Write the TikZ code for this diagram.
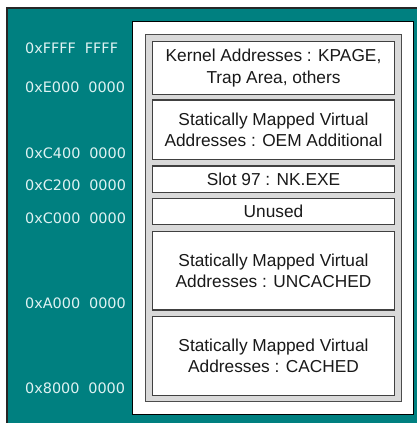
\documentclass[tikz,border=0pt]{standalone}
\usepackage{fontspec}
\setmainfont{Liberation Sans}
\newfontfamily\addrfont{DejaVu Sans}
\definecolor{tealbg}{RGB}{0,128,128}
\definecolor{addrtext}{RGB}{222,242,242}
\definecolor{panelgray}{RGB}{217,217,217}
\newcommand{\addrgap}{\hspace{0.62em}}
\begin{document}
\begin{tikzpicture}[x=1pt,y=1pt,
  addrlabel/.style={anchor=west, inner sep=0pt, text=addrtext, font=\addrfont\fontsize{14.4}{17}\selectfont},
  region/.style={draw=black!75, line width=1.1pt, fill=white, minimum width=242pt, inner sep=0pt,
    font=\fontsize{17.3}{21.5}\selectfont, align=center, text=black!90},
  framebox/.style={draw=black, fill=white, line width=1pt, inner sep=0pt},
  panelbox/.style={draw=black!70, fill=panelgray, line width=1pt, inner sep=0pt}
]
\useasboundingbox (0,0) rectangle (417,423);
\fill[tealbg] (7,0) rectangle (417,415);
\draw[line width=1.2pt, black!85] (7,0) -- (7,415) -- (417,415);
\node[framebox, minimum width=281pt, minimum height=393pt] (frame) at (272.5,204.5) {};
\node[panelbox, minimum width=256pt, minimum height=367pt] (panel) at (273,204.5) {};
\node[region, minimum height=52.6pt] (kernel) at (273.5,355) {Kernel Addresses : KPAGE,\\Trap Area, others};
\node[region, minimum height=59.3pt] (oem) at (273.5,293.35) {Statically Mapped Virtual\\Addresses : OEM Additional};
\node[region, minimum height=26.3pt] (slot) at (273.5,243.85) {Slot 97 : NK.EXE};
\node[region, minimum height=26.4pt] (unused) at (273.5,211.5) {Unused};
\node[region, minimum height=78.3pt] (uncached) at (273.5,152.15) {Statically Mapped Virtual\\Addresses : UNCACHED};
\node[region, minimum height=78.6pt] (cached) at (273.5,67) {Statically Mapped Virtual\\Addresses : CACHED};
\node[addrlabel] (aFFFF) at (25,374.7) {0xFFFF\addrgap FFFF};
\node[addrlabel] (aE000) at (25,335.7) {0xE000\addrgap 0000};
\node[addrlabel] (aC400) at (25,269.7) {0xC400\addrgap 0000};
\node[addrlabel] (aC200) at (25,238) {0xC200\addrgap 0000};
\node[addrlabel] (aC000) at (25,204.7) {0xC000\addrgap 0000};
\node[addrlabel] (aA000) at (25,119.7) {0xA000\addrgap 0000};
\node[addrlabel] (a8000) at (25,34.7) {0x8000\addrgap 0000};
\end{tikzpicture}
\end{document}
